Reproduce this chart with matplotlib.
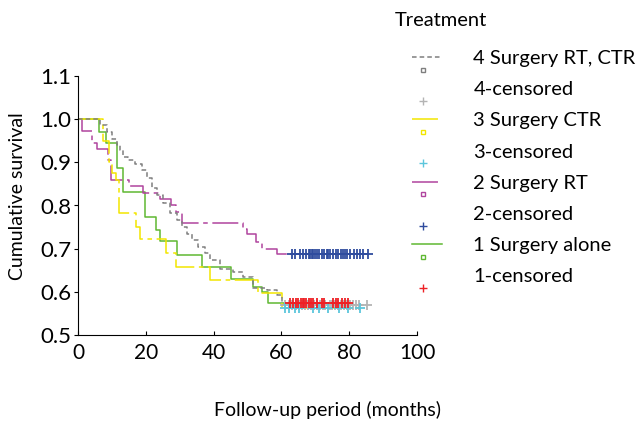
import matplotlib
matplotlib.use('Agg')
import matplotlib.pyplot as plt
from matplotlib.lines import Line2D
from matplotlib.legend_handler import HandlerBase

plt.rcParams['font.family'] = ['Lato', 'DejaVu Sans']

# group 1: surgery alone (step times in months, survival after the step)
g1_t = [0, 6.2, 8.3, 11.4, 13.4, 19.8, 23.0, 24.2, 29.2, 36.6, 45.1, 51.6, 54.3, 56.0]
g1_s = [1.0, 0.971, 0.944, 0.886, 0.832, 0.773, 0.743, 0.718, 0.685, 0.657, 0.630, 0.611, 0.600, 0.573]
g1_cens = [62.5, 63.5, 64.3, 65.0, 65.7, 66.3, 66.7, 67.3, 68.0, 68.6, 69.4, 70.4,
           71.9, 72.6, 75.1, 76.1, 76.8, 77.8, 78.8, 79.7]

# group 2: surgery + RT
g2_t = [0, 1.1, 4.0, 5.5, 8.9, 9.6, 15.1, 19.3, 24.2, 27.3, 28.8, 30.6, 48.6, 49.8, 52.5, 54.2, 58.8]
g2_s = [1.0, 0.973, 0.944, 0.930, 0.905, 0.859, 0.845, 0.830, 0.815, 0.801, 0.785, 0.760,
        0.745, 0.733, 0.716, 0.700, 0.6875]
g2_cens = [63.0, 64.0, 65.5, 66.3, 67.3, 68.0, 68.4, 68.9, 69.4, 69.9, 70.6, 71.2, 71.9,
           72.6, 73.4, 73.8, 74.3, 75.3, 76.1, 76.8, 77.5, 78.1, 78.8, 79.3, 80.2, 81.4,
           82.4, 83.2, 84.2, 85.4]

# group 3: surgery + CTR
g3_t = [0, 7.4, 9.2, 10.0, 11.2, 12.2, 17.0, 18.3, 25.9, 28.9, 38.9, 53.1, 60.1]
g3_s = [1.0, 0.950, 0.900, 0.875, 0.859, 0.782, 0.751, 0.722, 0.689, 0.658, 0.627, 0.597, 0.563]
g3_cens = [61.1, 62.1, 64.0, 65.3, 69.4, 71.2, 73.8, 77.1, 79.7, 83.2]

# group 4: surgery + RT + CTR
g4_t = [0, 6.5, 8.5, 9.9, 11.4, 12.4, 13.4, 14.8, 16.8, 18.8, 20.3, 21.7, 23.2, 25.2,
        27.1, 29.1, 30.6, 32.1, 33.5, 35.5, 37.5, 38.9, 41.9, 45.8, 48.8, 51.7, 55.7,
        58.6, 60.1]
g4_s = [1.0, 0.986, 0.971, 0.955, 0.940, 0.928, 0.913, 0.905, 0.897, 0.882, 0.863, 0.840,
        0.824, 0.805, 0.782, 0.766, 0.751, 0.735, 0.720, 0.704, 0.689, 0.674, 0.654,
        0.647, 0.635, 0.608, 0.604, 0.593, 0.569]
g4_cens = [61.2, 62.3, 63.1, 64.4, 65.2, 66.0, 67.1, 67.9, 68.8, 69.6, 70.5, 71.4, 72.3,
           73.0, 74.2, 75.0, 75.9, 76.7, 77.6, 78.5, 79.4, 80.3, 81.1, 82.0, 82.8, 85.3]

labels = ['4 Surgery RT, CTR', '4-censored', '3 Surgery CTR', '3-censored',
          '2 Surgery RT', '2-censored', '1 Surgery alone', '1-censored']

green = '#5fb832'
magenta = '#b0449e'
yellow = '#f2e600'
gray = '#7f7f7f'
red = '#ee2024'
blue = '#2f4c9e'
cyan = '#5cc6dc'
lgray = '#b4b4b4'

dash_long = (0, (17, 3, 3, 3))
dash_short = (0, (3, 2))

groups = [
    (g1_t, g1_s, g1_cens, green, '-', red),
    (g2_t, g2_s, g2_cens, magenta, dash_long, blue),
    (g3_t, g3_s, g3_cens, yellow, dash_long, cyan),
    (g4_t, g4_s, g4_cens, gray, dash_short, lgray),
]

fig = plt.figure(figsize=(6.38, 4.25), dpi=100)
ax = fig.add_axes([78 / 638, 1 - 335 / 425, 339 / 638, 259 / 425])

# lines first, then censoring marks (red last so it sits on top)
for t, s, cens, col, ls, ccol in groups:
    ax.step(t + [max(cens)], s + [s[-1]], where='post', color=col, linestyle=ls, lw=1.1)
for t, s, cens, col, ls, ccol in [groups[3], groups[2], groups[1], groups[0]]:
    ax.plot(cens, [s[-1]] * len(cens), linestyle='None', marker='+', color=ccol,
            markersize=6.5, markeredgewidth=1.3)

ax.set_xlim(0, 100)
ax.set_ylim(0.5, 1.1)
ax.set_xticks([0, 20, 40, 60, 80, 100])
ax.set_yticks([0.5, 0.6, 0.7, 0.8, 0.9, 1.0, 1.1])
ax.set_yticklabels(['0.5', '0.6', '0.7', '0.8', '0.9', '1.0', '1.1'])
ax.spines['top'].set_visible(False)
ax.spines['right'].set_visible(False)
ax.tick_params(axis='x', direction='in', length=3, labelsize=15, pad=6)
ax.tick_params(axis='y', direction='out', length=3, labelsize=16, pad=2)

fig.text(18 / 638, 1 - 196 / 425, 'Cumulative survival', rotation=90,
         ha='center', va='center', fontsize=14)
fig.text(328 / 638, 1 - 410 / 425, 'Follow-up period (months)',
         ha='center', va='center', fontsize=14)


# SPSS style legend: line on the label row, marker slightly below it
class ShiftedHandler(HandlerBase):
    def create_artists(self, legend, orig_handle, xdescent, ydescent, width, height,
                       fontsize, trans):
        y = height / 2 - ydescent
        arts = []
        if orig_handle.get_linestyle() not in ('None', ''):
            ln = Line2D([-xdescent, -xdescent + width], [y, y])
            ln.update_from(orig_handle)
            ln.set_marker('None')
            ln.set_transform(trans)
            arts.append(ln)
        mk = Line2D([-xdescent + width * 0.37], [y - 0.62 * fontsize])
        mk.update_from(orig_handle)
        mk.set_linestyle('None')
        mk.set_transform(trans)
        arts.append(mk)
        return arts


handles = []
for t, s, cens, col, ls, ccol in [groups[3], groups[2], groups[1], groups[0]]:
    handles.append(Line2D([], [], color=col, linestyle=ls, lw=1.1, marker='s',
                          markersize=3.5, markerfacecolor='none', markeredgecolor=col,
                          markeredgewidth=1))
    handles.append(Line2D([], [], linestyle='None', marker='+', color=ccol,
                          markersize=6, markeredgewidth=1))

fig.text(395 / 638, 1 - 20 / 425, 'Treatment', ha='left', va='center', fontsize=14.5)
fig.legend(handles, labels, handler_map={Line2D: ShiftedHandler()},
           loc='upper left', bbox_to_anchor=(412 / 638, 1 - 50 / 425),
           frameon=False, fontsize=14.5, handlelength=1.5, handletextpad=1.55,
           labelspacing=0.7, borderpad=0, borderaxespad=0)

fig.savefig('out.png', dpi=100)
